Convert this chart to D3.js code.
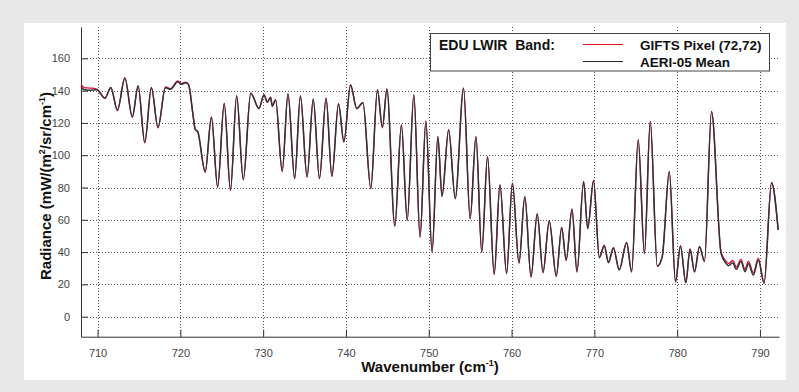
<!DOCTYPE html>
<html>
<head>
<meta charset="utf-8">
<script src="https://cdn.jsdelivr.net/npm/d3@7"></script>
<style>
  html, body { margin: 0; padding: 0; background: #e8e8e8; }
  svg { display: block; font-family: Arial, "Liberation Sans", sans-serif; }
</style>
</head>
<body>
<div id="chart"></div>
<script>
// spectrum (peaks / troughs), cm-1 and mW/(m2 sr cm-1)
const wavenumber = [708.0, 708.4, 709.0, 709.9, 710.9, 711.6, 712.4, 713.3, 714.2, 714.9,
  715.7, 716.5, 717.3, 718.2, 718.8, 719.7, 720.1, 720.65, 721.0, 721.5,
  721.8, 722.1, 723.0, 723.75, 724.5, 725.3, 726.05, 726.8, 727.6, 728.5,
  729.5, 730.1, 730.5, 730.9, 731.1, 731.5, 732.3, 733.0, 733.8, 734.5,
  735.3, 736.05, 736.8, 737.6, 738.3, 739.1, 739.75, 740.55, 741.3, 742.05,
  743.0, 743.8, 744.4, 744.95, 745.9, 746.7, 747.4, 748.2, 748.95, 749.65,
  750.4, 751.1, 751.6, 752.4, 753.2, 754.2, 755.0, 755.7, 756.4, 757.1,
  757.9, 758.6, 759.4, 760.1, 760.9, 761.6, 762.35, 763.1, 763.8, 764.55,
  765.4, 766.05, 766.6, 767.3, 767.9, 768.7, 769.2, 769.9, 770.6, 771.2,
  771.7, 772.3, 773.0, 773.9, 774.5, 775.3, 776.05, 776.75, 777.6, 778.2,
  779.05, 779.8, 780.4, 781.05, 781.55, 782.1, 782.7, 783.3, 784.15, 785.3,
  785.9, 786.2, 786.7, 787.15, 787.7, 788.2, 788.6, 789.2, 789.8, 790.5,
  791.4, 792.2];

const aeriMean = [142.5, 140.5, 140.2, 140.5, 135.2, 141.8, 128, 147.6, 123.8, 142.8,
  108, 141.8, 117.3, 141.8, 140.8, 145.5, 143.9, 144.9, 143.5, 126,
  116, 114.6, 89.8, 123.5, 80.5, 132, 78.5, 136.7, 85, 138.3,
  129, 137.3, 133, 135.8, 130.5, 134.2, 90.2, 137.9, 85.7, 136.7,
  86.7, 134.6, 85.7, 135.2, 87.1, 131.7, 108.4, 143.5, 129, 132.5,
  79.5, 140.4, 117.3, 140.8, 56.3, 118.7, 59.9, 137.3, 49.5, 121,
  40.2, 111.5, 74.7, 115.6, 73.3, 141.4, 60.9, 111.5, 40.2, 99,
  26.4, 81.5, 26.9, 82.6, 33.4, 74.3, 24.8, 63.6, 27.5, 59.3,
  25.2, 55.1, 35.1, 66.5, 27.9, 83.6, 54.7, 84.2, 36.5, 43.8,
  33.4, 42.4, 28.9, 45.8, 27.9, 109.4, 39.2, 120.7, 31.4, 37.2,
  89.8, 21.7, 43.8, 21.1, 41.7, 27.9, 43.3, 34.1, 126.9, 39.2,
  33, 31.5, 33.4, 29.3, 34.1, 27.9, 33, 25.8, 35.1, 20.7,
  83, 53.7];

const giftsPixel = [143.8, 141.9, 141.6, 141.0, 135.5, 142.0, 127.6, 147.9, 123.5, 143.0,
  107.6, 142.0, 117.0, 142.3, 141.2, 146.0, 144.4, 145.2, 143.7, 126.2,
  115.8, 114.4, 89.4, 123.7, 80.1, 132.2, 78.1, 136.9, 84.7, 138.5,
  128.8, 137.5, 132.8, 136.0, 130.3, 134.4, 89.8, 138.1, 85.3, 136.9,
  86.3, 134.8, 85.4, 135.4, 86.8, 131.9, 108.1, 143.7, 128.8, 132.7,
  79.0, 140.6, 117.0, 141.0, 55.9, 118.9, 59.5, 137.5, 49.1, 121.2,
  39.8, 111.7, 74.4, 115.8, 73.0, 141.6, 60.5, 111.7, 39.8, 99.2,
  26.1, 81.7, 26.6, 82.8, 33.1, 74.5, 24.5, 63.8, 27.2, 59.5,
  24.9, 55.3, 34.8, 66.7, 27.6, 83.8, 54.4, 84.4, 37.0, 44.3,
  33.9, 42.9, 29.3, 46.1, 27.6, 109.6, 38.9, 120.9, 31.1, 37.4,
  90.0, 21.4, 44.0, 20.8, 41.9, 27.6, 43.6, 34.4, 127.1, 40.2,
  34.4, 32.9, 34.8, 30.7, 35.5, 29.3, 34.4, 27.2, 36.3, 21.2,
  83.2, 53.9];

const xTicks = [710, 720, 730, 740, 750, 760, 770, 780, 790];
const yTicks = [0, 20, 40, 60, 80, 100, 120, 140, 160];

const width = 799, height = 392;
const plot = { left: 81, right: 779, top: 27, bottom: 336.7 };

const svg = d3.select("#chart").append("svg")
  .attr("width", width)
  .attr("height", height);

svg.append("rect")
  .attr("width", width).attr("height", height)
  .attr("fill", "#e8e8e8");

// white figure panel
svg.append("rect")
  .attr("x", 24).attr("y", 23)
  .attr("width", 762).attr("height", 357)
  .attr("fill", "#ffffff");

const x = d3.scaleLinear().domain([708, 792.3]).range([plot.left, plot.right]);
const y = d3.scaleLinear().domain([-12.4, 179.4]).range([plot.bottom, plot.top]);

// dotted grid
const grid = svg.append("g").attr("stroke", "#555").attr("stroke-width", 1)
  .attr("stroke-dasharray", "1,2");
grid.selectAll(".gx").data(xTicks).join("line")
  .attr("x1", d => Math.round(x(d)) + 0.5).attr("x2", d => Math.round(x(d)) + 0.5)
  .attr("y1", plot.top).attr("y2", plot.bottom);
grid.selectAll(".gy").data(yTicks).join("line")
  .attr("x1", plot.left).attr("x2", plot.right)
  .attr("y1", d => Math.round(y(d)) + 0.5).attr("y2", d => Math.round(y(d)) + 0.5);

// axes, ticks pointing inward
const xAxis = svg.append("g")
  .attr("transform", `translate(0,${plot.bottom})`)
  .call(d3.axisBottom(x).tickValues(xTicks).tickSizeInner(-7).tickSizeOuter(0).tickPadding(13));
const yAxis = svg.append("g")
  .attr("transform", `translate(${plot.left},0)`)
  .call(d3.axisLeft(y).tickValues(yTicks).tickSizeInner(-7).tickSizeOuter(0).tickPadding(11));

[xAxis, yAxis].forEach(a => {
  a.select(".domain").attr("stroke", "#333");
  a.selectAll(".tick line").attr("stroke", "#333");
  a.selectAll(".tick text")
    .attr("fill", "#444")
    .style("font-size", "11px")
    .style("font-family", "Arial, 'Liberation Sans', sans-serif");
});

// spectra
const line = d3.line()
  .x(d => x(d[0]))
  .y(d => y(d[1]))
  .curve(d3.curveMonotoneX);

svg.append("path")
  .datum(wavenumber.map((w, i) => [w, giftsPixel[i]]))
  .attr("fill", "none")
  .attr("stroke", "#d8103c")
  .attr("stroke-width", 1.3)
  .attr("d", line);

svg.append("path")
  .datum(wavenumber.map((w, i) => [w, aeriMean[i]]))
  .attr("fill", "none")
  .attr("stroke", "#333")
  .attr("stroke-width", 1.5)
  .attr("d", line);

// axis titles
const xt = svg.append("text")
  .attr("x", (plot.left + plot.right) / 2)
  .attr("y", 372)
  .attr("text-anchor", "middle")
  .style("font-size", "15px").style("font-weight", "bold").attr("fill", "#111")
  .text("Wavenumber (cm");
xt.append("tspan").attr("dy", -6).style("font-size", "9px").text("-1");
xt.append("tspan").attr("dy", 6).text(")");

const yt = svg.append("text")
  .attr("transform", "translate(51,186) rotate(-90)")
  .attr("text-anchor", "middle")
  .style("font-size", "15px").style("font-weight", "bold").attr("fill", "#111")
  .text("Radiance (mW/(m");
yt.append("tspan").attr("dy", -6).style("font-size", "9px").text("2");
yt.append("tspan").attr("dy", 6).text("/sr/cm");
yt.append("tspan").attr("dy", -6).style("font-size", "9px").text("-1");
yt.append("tspan").attr("dy", 6).text(")");

// legend
const legend = svg.append("g");
legend.append("rect")
  .attr("x", 430.5).attr("y", 33.5)
  .attr("width", 339).attr("height", 37.5)
  .attr("fill", "#fff").attr("stroke", "#444").attr("stroke-width", 1);
legend.append("text")
  .attr("x", 439).attr("y", 50)
  .attr("xml:space", "preserve").style("white-space", "pre")
  .style("font-size", "14px").style("font-weight", "bold").attr("fill", "#111")
  .text("EDU LWIR  Band:");
const entries = [
  { name: "GIFTS Pixel (72,72)", color: "#e8101c", y: 44.5 },
  { name: "AERI-05 Mean", color: "#262626", y: 61.5 }
];
entries.forEach(e => {
  legend.append("line")
    .attr("x1", 583).attr("x2", 623).attr("y1", e.y).attr("y2", e.y)
    .attr("stroke", e.color).attr("stroke-width", 1.2);
  legend.append("text")
    .attr("x", 640).attr("y", e.y + 5.5)
    .style("font-size", "13.5px").style("font-weight", "bold").attr("fill", "#111")
    .text(e.name);
});
</script>
</body>
</html>
